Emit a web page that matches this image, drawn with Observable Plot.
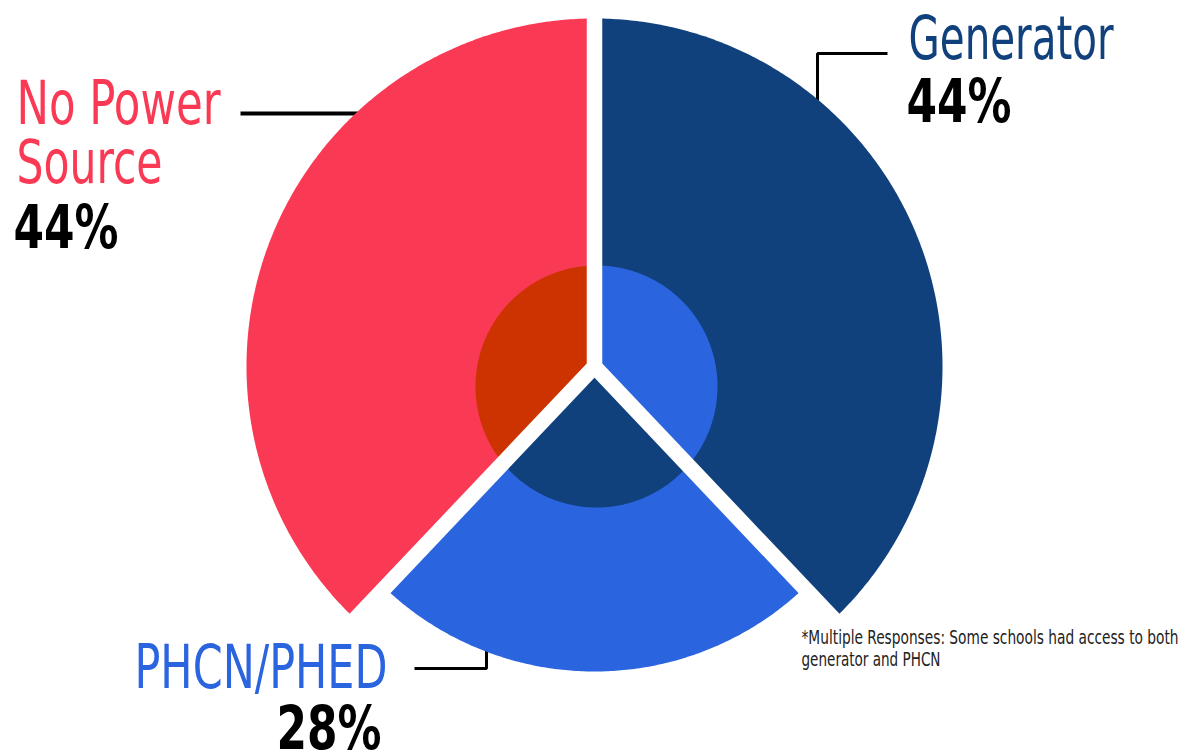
<!DOCTYPE html>
<html><head><meta charset="utf-8">
<script src="https://cdn.jsdelivr.net/npm/d3@7"></script>
<script src="https://cdn.jsdelivr.net/npm/@observablehq/plot@0.6"></script>
<style>
html,body{margin:0;padding:0;background:#fff;}
#chart svg{display:block;}
</style></head><body><div id="chart"></div>
<script>
// ---- data ----
const categories = ["Generator", "PHCN/PHED", "No Power Source"];
const values = [44, 28, 44];
const labelLines = [["Generator"], ["PHCN/PHED"], ["No Power", "Source"]];
const footnoteLines = ["*Multiple Responses: Some schools had access to both", "generator and PHCN"];

// ---- styles / layout ----
const outerColors = ["#10417c", "#2a64de", "#fa3954"];
const innerColors = ["#2a64de", "#10417c", "#cc3300"];
const labelColors = ["#10417c", "#2a64de", "#fa3954"];
const outerRadius = [348, 305, 348];
const innerRadius = 121;
const innerCenter = {x: 2, y: -20};
const gapWidth = 15.5;
const narrow = "'Liberation Sans Narrow','Arial Narrow','DejaVu Sans Condensed',sans-serif";
// label layout: [x, baseline of last line] in chart units relative to pie centre
const labelPos = [
  {name: [314, 308], pct: [312, 245]},
  {name: [-460, -321], pct: [-318, -382]},
  {name: [-578, 184], pct: [-581, 119]}
];
const textWidths = {
  "Generator": 205, "PHCN/PHED": 253, "No Power": 204, "Source": 146,
  "44%": 105, "28%": 105,
  "*Multiple Responses: Some schools had access to both": 377, "generator and PHCN": 139
};
const leaders = [
  {pts: [[293, 313], [223, 313], [223, 240]], w: 3},
  {pts: [[-180, -302], [-108, -302], [-108, -270]], w: 3},
  {pts: [[-354, 253], [-200, 253]], w: 4}
];

// ---- geometry from values ----
const total = d3.sum(values);
let acc = 0;
const slices = categories.map((c, i) => {
  const a0 = acc / total * 360; acc += values[i];
  return {c, i, a0, a1: acc / total * 360};
});
const rad = a => a * Math.PI / 180;
function wedge(a0, a1, rFn) {
  const pts = [{x: 0, y: 0}];
  const n = Math.ceil((a1 - a0) / 0.5);
  for (let k = 0; k <= n; k++) {
    const a = a0 + (a1 - a0) * k / n, r = rFn(a);
    pts.push({x: r * Math.sin(rad(a)), y: r * Math.cos(rad(a))});
  }
  pts.push({x: 0, y: 0});
  return pts;
}
function innerR(a) {
  const ux = Math.sin(rad(a)), uy = Math.cos(rad(a));
  const b = ux * innerCenter.x + uy * innerCenter.y;
  const d2 = innerCenter.x ** 2 + innerCenter.y ** 2;
  return b + Math.sqrt(b * b - d2 + innerRadius ** 2);
}

const marks = [];
leaders.forEach(l => marks.push(Plot.line(l.pts, {x: d => d[0], y: d => d[1], stroke: "#000", strokeWidth: l.w, strokeLinecap: "butt", strokeLinejoin: "miter"})));
slices.forEach((s, i) => marks.push(Plot.line(wedge(s.a0, s.a1, () => outerRadius[i]), {x: "x", y: "y", fill: outerColors[i], stroke: "none"})));
slices.forEach((s, i) => marks.push(Plot.line(wedge(s.a0, s.a1, innerR), {x: "x", y: "y", fill: innerColors[i], stroke: "none"})));
marks.push(Plot.link(slices.map(s => s.a0), {x1: () => 0, y1: () => 0, x2: a => 420 * Math.sin(rad(a)), y2: a => 420 * Math.cos(rad(a)), stroke: "#fff", strokeWidth: gapWidth, strokeLinecap: "butt"}));

slices.forEach((s, i) => {
  marks.push(Plot.text([labelLines[i].join("\n")], {x: () => labelPos[i].name[0], y: () => labelPos[i].name[1], text: d => d, textAnchor: "start", lineAnchor: "bottom", lineHeight: 59 / 60, fill: labelColors[i], fontSize: 60, fontFamily: narrow, fontWeight: 400}));
  marks.push(Plot.text([values[i] + "%"], {x: () => labelPos[i].pct[0], y: () => labelPos[i].pct[1], text: d => d, textAnchor: "start", lineAnchor: "bottom", fill: "#000", fontSize: 60, fontFamily: narrow, fontWeight: 700}));
});
marks.push(Plot.text([footnoteLines.join("\n")], {x: () => 207, y: () => -299, text: d => d, textAnchor: "start", lineAnchor: "bottom", lineHeight: 22 / 19, fill: "#222", fontSize: 19, fontFamily: narrow}));

const chart = Plot.plot({
  width: 1193, height: 756, margin: 0,
  x: {domain: [-594, 599], axis: null},
  y: {domain: [-390, 366], axis: null},
  style: {background: "#fff", overflow: "visible"},
  marks
});
d3.select(chart).selectAll("text, tspan").each(function() {
  const w = textWidths[this.textContent];
  if (w) d3.select(this).attr("textLength", w).attr("lengthAdjust", "spacingAndGlyphs");
});
document.getElementById("chart").appendChild(chart);
</script></body></html>
